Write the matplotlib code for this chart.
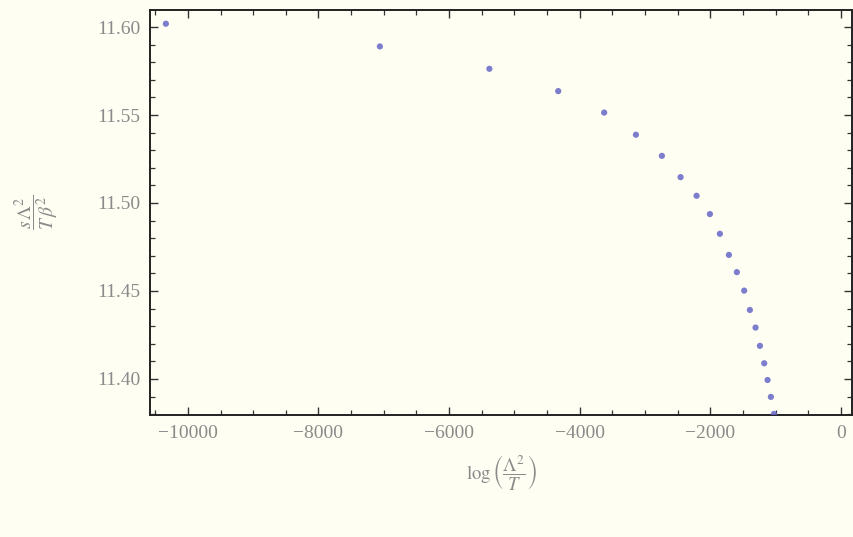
import matplotlib
matplotlib.use("Agg")
import matplotlib.pyplot as plt
from matplotlib.ticker import MultipleLocator

# data
log_ratio = [-10337, -7060, -5383, -4329, -3625, -3139, -2741, -2455, -2210,
             -2006, -1853, -1715, -1593, -1481, -1394, -1307, -1240, -1174,
             -1123, -1072, -1026]
s_ratio = [11.6019, 11.5890, 11.5763, 11.5636, 11.5514, 11.5388, 11.5268,
           11.5147, 11.5041, 11.4937, 11.4825, 11.4705, 11.4607, 11.4502,
           11.4392, 11.4292, 11.4188, 11.4089, 11.3994, 11.3898, 11.3801]
x_ticks = [-10000, -8000, -6000, -4000, -2000, 0]
y_ticks = [11.40, 11.45, 11.50, 11.55, 11.60]

plt.rcParams['font.family'] = ['Liberation Serif', 'DejaVu Serif']
plt.rcParams['mathtext.fontset'] = 'stix'

bg = '#fffef2'
fig = plt.figure(figsize=(8.54, 5.37), dpi=100, facecolor=bg)
ax = fig.add_axes([150/854, 1-415/537, 702/854, 405/537], facecolor=bg)

ax.scatter(log_ratio, s_ratio, s=20, color='#6666c8', edgecolors='none',
           alpha=0.85, clip_on=True, zorder=3)

ax.set_xlim(-10580, 170)
ax.set_ylim(11.3795, 11.6097)
ax.set_xticks(x_ticks)
ax.set_xticklabels(['\u221210000', '\u22128000', '\u22126000', '\u22124000',
                    '\u22122000', '0'])
ax.set_yticks(y_ticks)
ax.set_yticklabels(['%.2f' % v for v in y_ticks])
ax.xaxis.set_minor_locator(MultipleLocator(500))
ax.yaxis.set_minor_locator(MultipleLocator(0.01))

ax.tick_params(which='both', direction='in', top=True, right=True,
               color='#333333', labelcolor='#8a8a8a', labelsize=14)
ax.tick_params(which='major', length=6, width=1.0, pad=7)
ax.tick_params(which='minor', length=3.5, width=0.9)
for sp in ax.spines.values():
    sp.set_color('#222222')
    sp.set_linewidth(1.4)

ax.set_xlabel(r'$\log\left(\dfrac{\Lambda^2}{T}\right)$', color='#8a8a8a',
              fontsize=13.5, labelpad=9)
ax.set_ylabel(r'$\dfrac{s\,\Lambda^2}{T\,\beta^2}$', color='#8a8a8a',
              fontsize=14, labelpad=26)

fig.savefig('out.png', dpi=100, facecolor=bg)
